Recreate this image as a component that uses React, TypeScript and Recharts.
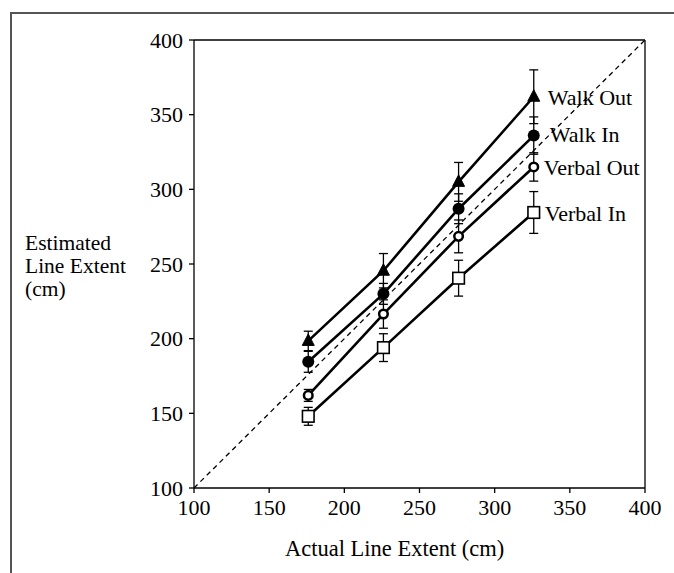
import React from "react";
import {
  ComposedChart,
  Line,
  XAxis,
  YAxis,
  ErrorBar,
  ReferenceLine,
  LabelList,
} from "recharts";

const actualExtent = [176, 226, 276, 326];
const axisTicks = [100, 150, 200, 250, 300, 350, 400];

const walkOut = [198.5, 245.5, 305, 362];
const walkOutErr = [6.5, 11.5, 13, 18];
const walkIn = [184.5, 230, 287, 336];
const walkInErr = [7, 7, 10, 12.5];
const verbalOut = [162, 216.5, 268.5, 315];
const verbalOutErr = [4, 9.5, 11, 9.5];
const verbalIn = [148, 194, 240.5, 284.5];
const verbalInErr = [6, 9.3, 12, 14];

const seriesNames = ["Walk Out", "Walk In", "Verbal Out", "Verbal In"];

const build = (vals: number[], errs: number[]) =>
  actualExtent.map((x, i) => ({ x, y: vals[i], err: errs[i] }));

const FONT = "Liberation Serif, Times New Roman, serif";

const Triangle = (p: any) => {
  const { cx, cy } = p;
  if (cx == null || cy == null) return null;
  return (
    <polygon
      key={p.index}
      points={`${cx},${cy - 7} ${cx - 6},${cy + 4.5} ${cx + 6},${cy + 4.5}`}
      fill="#000"
      stroke="#000"
      strokeWidth={1}
    />
  );
};
const FilledCircle = (p: any) => {
  const { cx, cy } = p;
  if (cx == null || cy == null) return null;
  return <circle key={p.index} cx={cx} cy={cy} r={6} fill="#000" />;
};
const OpenCircle = (p: any) => {
  const { cx, cy } = p;
  if (cx == null || cy == null) return null;
  return (
    <circle key={p.index} cx={cx} cy={cy} r={4.3} fill="#fff" stroke="#000" strokeWidth={2.5} />
  );
};
const OpenSquare = (p: any) => {
  const { cx, cy } = p;
  if (cx == null || cy == null) return null;
  return (
    <rect
      key={p.index}
      x={cx - 5.8}
      y={cy - 5.8}
      width={11.6}
      height={11.6}
      fill="#fff"
      stroke="#000"
      strokeWidth={1.6}
    />
  );
};

const makeLabel = (name: string, dx: number, dy: number) => (p: any) => {
  if (p.index !== 3) return null;
  return (
    <text
      x={p.x + dx}
      y={p.y + dy}
      fontFamily={FONT}
      fontSize={22}
      fill="#000"
    >
      {name}
    </text>
  );
};

const series = [
  { name: seriesNames[0], data: build(walkOut, walkOutErr), dot: Triangle, dx: 14, dy: 8 },
  { name: seriesNames[1], data: build(walkIn, walkInErr), dot: FilledCircle, dx: 16, dy: 6 },
  { name: seriesNames[2], data: build(verbalOut, verbalOutErr), dot: OpenCircle, dx: 10, dy: 8 },
  { name: seriesNames[3], data: build(verbalIn, verbalInErr), dot: OpenSquare, dx: 11, dy: 9 },
];

export default function App() {
  return (
    <div
      style={{
        position: "absolute",
        left: 0,
        top: 0,
        width: 674,
        height: 573,
        background: "#fff",
        overflow: "hidden",
      }}
    >
      <div
        style={{
          position: "absolute",
          left: 10,
          top: 12,
          width: 700,
          height: 600,
          borderLeft: "2px solid #555",
          borderTop: "2px solid #555",
        }}
      />
      <div style={{ position: "absolute", left: 0, top: 0 }}>
        <ComposedChart
          width={674}
          height={573}
          margin={{ top: 40, right: 29, bottom: 55, left: 134 }}
        >
          <XAxis
            type="number"
            dataKey="x"
            domain={[100, 400]}
            ticks={axisTicks}
            allowDataOverflow
            height={30}
            tickSize={5}
            tickMargin={6}
            stroke="#000"
            strokeWidth={1.3}
            tick={{ fill: "#000", fontFamily: FONT, fontSize: 22 }}
            tickLine={{ stroke: "#000", strokeWidth: 1.3 }}
          />
          <YAxis
            type="number"
            dataKey="y"
            domain={[100, 400]}
            ticks={axisTicks}
            allowDataOverflow
            width={60}
            tickSize={5}
            tickMargin={6}
            stroke="#000"
            strokeWidth={1.3}
            tick={{ fill: "#000", fontFamily: FONT, fontSize: 22 }}
            tickLine={{ stroke: "#000", strokeWidth: 1.3 }}
          />
          <ReferenceLine y={400} stroke="#000" strokeWidth={1.3} />
          <ReferenceLine x={400} stroke="#000" strokeWidth={1.3} />
          <ReferenceLine
            segment={[
              { x: 100, y: 100 },
              { x: 400, y: 400 },
            ]}
            stroke="#000"
            strokeWidth={1.3}
            strokeDasharray="5 4"
          />
          {series.map((s) => (
            <Line
              key={s.name}
              data={s.data}
              dataKey="y"
              name={s.name}
              type="linear"
              stroke="#000"
              strokeWidth={2.6}
              dot={s.dot}
              activeDot={false}
              isAnimationActive={false}
            >
              <ErrorBar
                dataKey="err"
                direction="y"
                width={4.5}
                stroke="#000"
                strokeWidth={1.3}
                isAnimationActive={false}
              />
              <LabelList dataKey="y" content={makeLabel(s.name, s.dx, s.dy)} />
            </Line>
          ))}
        </ComposedChart>
      </div>
      <div
        style={{
          position: "absolute",
          left: 25,
          top: 232,
          fontFamily: FONT,
          fontSize: 21.5,
          lineHeight: "23px",
          color: "#000",
          whiteSpace: "nowrap",
        }}
      >
        Estimated
        <br />
        Line Extent
        <br />
        (cm)
      </div>
      <div
        style={{
          position: "absolute",
          left: 285,
          top: 536,
          fontFamily: FONT,
          fontSize: 22.5,
          lineHeight: "26px",
          color: "#000",
          whiteSpace: "nowrap",
        }}
      >
        Actual Line Extent (cm)
      </div>
    </div>
  );
}
